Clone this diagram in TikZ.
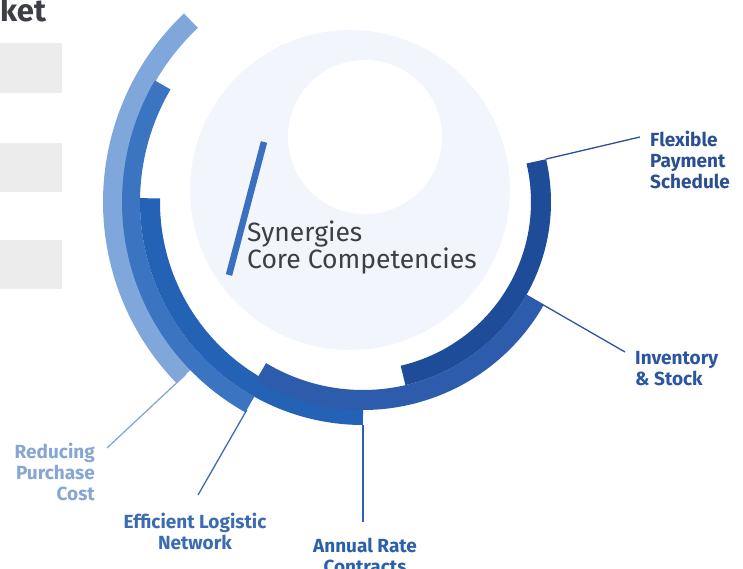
\documentclass[tikz,border=0pt]{standalone}
\usepackage{fontspec}
\setmainfont{Fira Sans}
\usetikzlibrary{calc}
\definecolor{redcol}{HTML}{80A7DC}
\definecolor{effcol}{HTML}{3B74C0}
\definecolor{anncol}{HTML}{2462B5}
\definecolor{invcol}{HTML}{2C5CAB}
\definecolor{flxcol}{HTML}{1F4C98}
\definecolor{redtxt}{HTML}{86A6D4}
\definecolor{efftxt}{HTML}{3C6BB3}
\definecolor{anntxt}{HTML}{2B60AA}
\definecolor{invtxt}{HTML}{2D56A2}
\definecolor{flxtxt}{HTML}{2A4F92}
\definecolor{palecol}{HTML}{F2F6FC}
\definecolor{boxcol}{HTML}{ECECEC}
\definecolor{inktxt}{HTML}{3C3F46}
\definecolor{barcol}{HTML}{3A70BF}
\begin{document}
\begin{tikzpicture}[
			x=1pt, y=1pt,
			band/.style={line width=20pt},
			lbl/.style={font=\fontsize{19}{21}\selectfont\bfseries, inner sep=0pt},
			link/.style={line width=1.3pt}
		]
		\useasboundingbox (0,0) rectangle (743,569);
		\coordinate (O) at (363,367);

		% left side of the page
		\node[anchor=base west, inner sep=0pt, inktxt, font=\fontsize{31}{33}\selectfont\bfseries] (head) at (0,547) {ket};
		\fill[boxcol] (0,526) rectangle (62,476);
		\fill[boxcol] (0,426) rectangle (62,377);
		\fill[boxcol] (0,329) rectangle (62,280);

		% centre
		\fill[palecol] (350,379) circle[radius=160pt];
		\fill[white] (365,432) circle[radius=77pt];
		\draw[barcol, line width=6.5pt] (264,427) -- (229,294);
		\node[anchor=north west, inner sep=0pt, inktxt, align=left, font=\fontsize{26.5}{27}\selectfont] (core) at (247,348) {Synergies\\Core Competencies};

		% rings
		\draw[band, redcol] ([shift={(133.5:250)}]O) arc[start angle=133.5, end angle=224.2, radius=250pt];
		\draw[band, effcol, line width=18pt] ([shift={(149.7:232)}]O) arc[start angle=149.7, end angle=240.8, radius=232pt];
		\draw[band, anncol] ([shift={(179:213)}]O) arc[start angle=179, end angle=270, radius=213pt];
		\draw[band, invcol] ([shift={(-29.7:198)}]O) arc[start angle=-29.7, end angle=-121, radius=198pt];
		\draw[band, flxcol] ([shift={(13.2:178)}]O) arc[start angle=13.2, end angle=-77, radius=178pt];

		\coordinate (flxA) at ([shift={(13.2:188)}]O);
		\coordinate (invA) at ([shift={(-29.7:188)}]O);
		\coordinate (annA) at ([shift={(270:223)}]O);
		\coordinate (effA) at ([shift={(240.8:238)}]O);
		\coordinate (redA) at ([shift={(224.2:247)}]O);

		% labels
		\node[lbl, flxtxt, align=left, anchor=north west] (flx) at (650,438) {Flexible\\Payment\\Schedule};
		\node[lbl, invtxt, align=left, anchor=north west] (inv) at (635,218) {Inventory\\\& Stock};
		\node[lbl, anntxt, align=center, anchor=north] (ann) at (365,31) {Annual Rate\\Contracts};
		\node[lbl, efftxt, align=center, anchor=north] (eff) at (195,56) {Efficient Logistic\\Network};
		\node[lbl, redtxt, align=right, anchor=north east] (red) at (95,126) {Reducing\\Purchase\\Cost};

		\draw[link, flxtxt] (flxA) -- ($(flx.north west)+(-10,-6)$);
		\draw[link, invtxt] (invA) -- ($(inv.north west)+(-10,-1)$);
		\draw[link, anntxt] (annA) -- ($(ann.north)+(-2,16)$);
		\draw[link, efftxt] (effA) -- ($(eff.north)+(3,18)$);
		\draw[link, redtxt] (redA) -- ($(red.north east)+(12,-5)$);
	\end{tikzpicture}
\end{document}
